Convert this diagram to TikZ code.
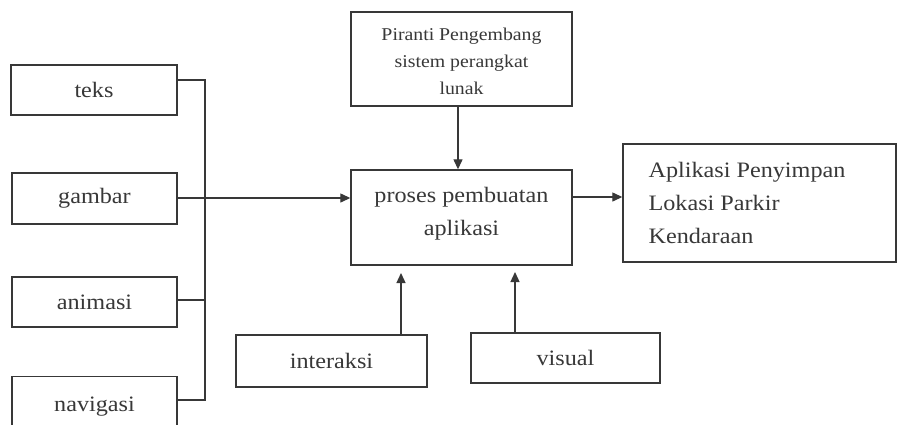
\documentclass[tikz,border=0pt]{standalone}
\usepackage{fontspec}
\setmainfont{Liberation Serif}[FakeStretch=1.1]
\usetikzlibrary{arrows.meta}
\definecolor{ink}{HTML}{383838}
\begin{document}
\begin{tikzpicture}[x=1pt,y=-1pt,
  box/.style={draw=ink,line width=1.4pt,inner sep=0pt},
  lbl/.style={text=ink,font=\fontsize{22}{26}\selectfont},
  conn/.style={draw=ink,line width=1.3pt},
  arr/.style={conn,-{Triangle[length=10pt,width=9pt]}}]
\clip (0,0) rectangle (897,424);
\fill[white] (0,0) rectangle (897,424);
% left boxes
\node[box,minimum width=166pt,minimum height=50pt,lbl] (teks) at (94,90) {teks};
\node[box,minimum width=165pt,minimum height=51pt,lbl] (gambar) at (94.5,198.5) {gambar};
\node[box,minimum width=165pt,minimum height=50pt,lbl] (animasi) at (94.5,302) {animasi};
\node[box,minimum width=165pt,minimum height=52pt,lbl,anchor=north] (navigasi) at (94.5,376) {};
\node[lbl] (navtxt) at (94.5,407) {navigasi};
% bus
\coordinate (busT) at (205,80);
\coordinate (busM) at (205,198);
\coordinate (busB) at (205,400);
\draw[conn] (teks.east |- busT) -- (busT) -- (busB) -- (navigasi.east |- busB);
\draw[conn] (gambar.east |- busM) -- (busM);
\draw[conn] (animasi.east |- 0,300) -- (205,300);
% centre
\node[box,minimum width=221pt,minimum height=94pt] (piranti) at (461.5,59) {};
\node[text=ink,font=\fontsize{18}{27}\selectfont,align=center] (pirtxt) at (461.5,61) {Piranti Pengembang\\sistem perangkat\\lunak};
\node[box,minimum width=221pt,minimum height=95pt] (proses) at (461.5,217.5) {};
\node[lbl,align=center,font=\fontsize{22}{33}\selectfont] (protxt) at (461.5,214) {proses pembuatan\\aplikasi};
\node[box,minimum width=273pt,minimum height=118pt] (apl) at (759.5,203) {};
\node[lbl,align=left,anchor=west,font=\fontsize{22}{33}\selectfont] (apltxt) at (645,203) {Aplikasi Penyimpan\\Lokasi Parkir\\Kendaraan};
\node[box,minimum width=191pt,minimum height=52pt,lbl] (inter) at (331.5,361) {interaksi};
\node[box,minimum width=189pt,minimum height=50pt,lbl] (visual) at (565.5,358) {visual};
% arrows
\draw[arr] (busM) -- (proses.west |- busM);
\draw[arr] (piranti.south -| 458,0) -- (proses.north -| 458,0);
\draw[arr] (proses.east |- 0,197) -- (apl.west |- 0,197);
\coordinate (pi) at (401,273);
\coordinate (pv) at (515,272);
\draw[arr] (inter.north -| pi) -- (pi);
\draw[arr] (visual.north -| pv) -- (pv);
\end{tikzpicture}
\end{document}
